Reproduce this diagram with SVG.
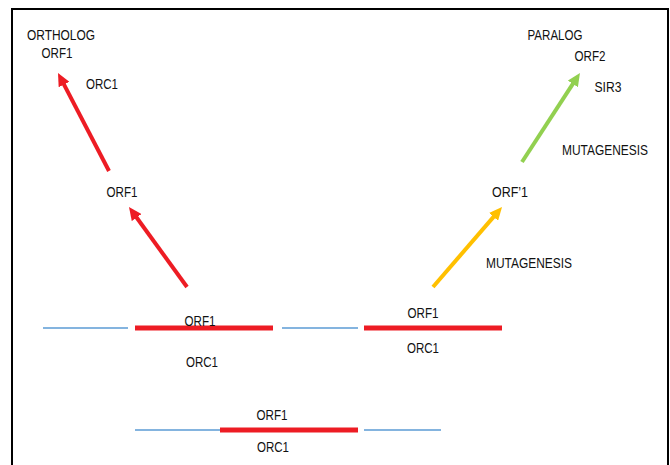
<svg xmlns="http://www.w3.org/2000/svg" width="670" height="465" viewBox="0 0 670 465">
<style>
text{font-family:"Liberation Sans",Arial,sans-serif;font-size:14px;fill:#111;text-anchor:middle}
.blue{stroke:#5B9BD5;stroke-width:1.3}
.gene{stroke:#ED1C24;stroke-width:5}
.red{stroke:#ED1C24;stroke-width:4;fill:none}
.yel{stroke:#FFC000;stroke-width:4;fill:none}
.grn{stroke:#92D050;stroke-width:4;fill:none}
</style>
<defs>
<marker id="ar" markerUnits="userSpaceOnUse" markerWidth="13" markerHeight="12" refX="5" refY="6" orient="auto"><path d="M0,0 L13,6 L0,12 z" fill="#ED1C24"/></marker>
<marker id="ay" markerUnits="userSpaceOnUse" markerWidth="13" markerHeight="12" refX="5" refY="6" orient="auto"><path d="M0,0 L13,6 L0,12 z" fill="#FFC000"/></marker>
<marker id="ag" markerUnits="userSpaceOnUse" markerWidth="13" markerHeight="12" refX="5" refY="6" orient="auto"><path d="M0,0 L13,6 L0,12 z" fill="#92D050"/></marker>
</defs>
<rect width="670" height="465" fill="#fff"/>
<rect x="12" y="9" width="656" height="470" fill="none" stroke="#000" stroke-width="2"/>
<g id="row1">
<line class="blue" x1="43" y1="328" x2="128" y2="328"/>
<line class="gene" x1="135" y1="328" x2="273" y2="328"/>
<line class="blue" x1="282" y1="328" x2="358" y2="328"/>
<line class="gene" x1="364" y1="328" x2="502" y2="328"/>
</g>
<g id="row2">
<line class="blue" x1="135" y1="430" x2="220" y2="430"/>
<line class="gene" x1="220" y1="430" x2="358" y2="430"/>
<line class="blue" x1="364" y1="430" x2="441" y2="430"/>
</g>
<g id="connectors">
<line class="red" x1="187" y1="287" x2="133.7" y2="213.5" marker-end="url(#ar)"/>
<line class="red" x1="109" y1="171" x2="61.7" y2="80.1" marker-end="url(#ar)"/>
<line class="yel" x1="433" y1="287" x2="496.8" y2="213.1" marker-end="url(#ay)"/>
<line class="grn" x1="522" y1="162" x2="575.6" y2="79.7" marker-end="url(#ag)"/>
</g>
<g id="ortholog"><text x="61" y="40" textLength="68" lengthAdjust="spacingAndGlyphs">ORTHOLOG</text><text x="57" y="58" textLength="31" lengthAdjust="spacingAndGlyphs">ORF1</text><text x="102" y="89" textLength="32" lengthAdjust="spacingAndGlyphs">ORC1</text></g>
<g id="orf1-mid"><text x="122" y="197" textLength="31" lengthAdjust="spacingAndGlyphs">ORF1</text></g>
<g id="paralog"><text x="555" y="40" textLength="55" lengthAdjust="spacingAndGlyphs">PARALOG</text><text x="590" y="61" textLength="31" lengthAdjust="spacingAndGlyphs">ORF2</text><text x="608" y="92" textLength="27" lengthAdjust="spacingAndGlyphs">SIR3</text><text x="605" y="155" textLength="86" lengthAdjust="spacingAndGlyphs">MUTAGENESIS</text></g>
<g id="orf-prime"><text x="510" y="197" textLength="36" lengthAdjust="spacingAndGlyphs">ORF’1</text><text x="529" y="268" textLength="86" lengthAdjust="spacingAndGlyphs">MUTAGENESIS</text></g>
<g id="gene-left"><text x="200" y="326" textLength="31" lengthAdjust="spacingAndGlyphs">ORF1</text><text x="202" y="367" textLength="32" lengthAdjust="spacingAndGlyphs">ORC1</text></g>
<g id="gene-right"><text x="423" y="318" textLength="31" lengthAdjust="spacingAndGlyphs">ORF1</text><text x="423" y="353" textLength="32" lengthAdjust="spacingAndGlyphs">ORC1</text></g>
<g id="gene-bottom"><text x="272" y="420" textLength="31" lengthAdjust="spacingAndGlyphs">ORF1</text><text x="273" y="452" textLength="32" lengthAdjust="spacingAndGlyphs">ORC1</text></g>
</svg>
